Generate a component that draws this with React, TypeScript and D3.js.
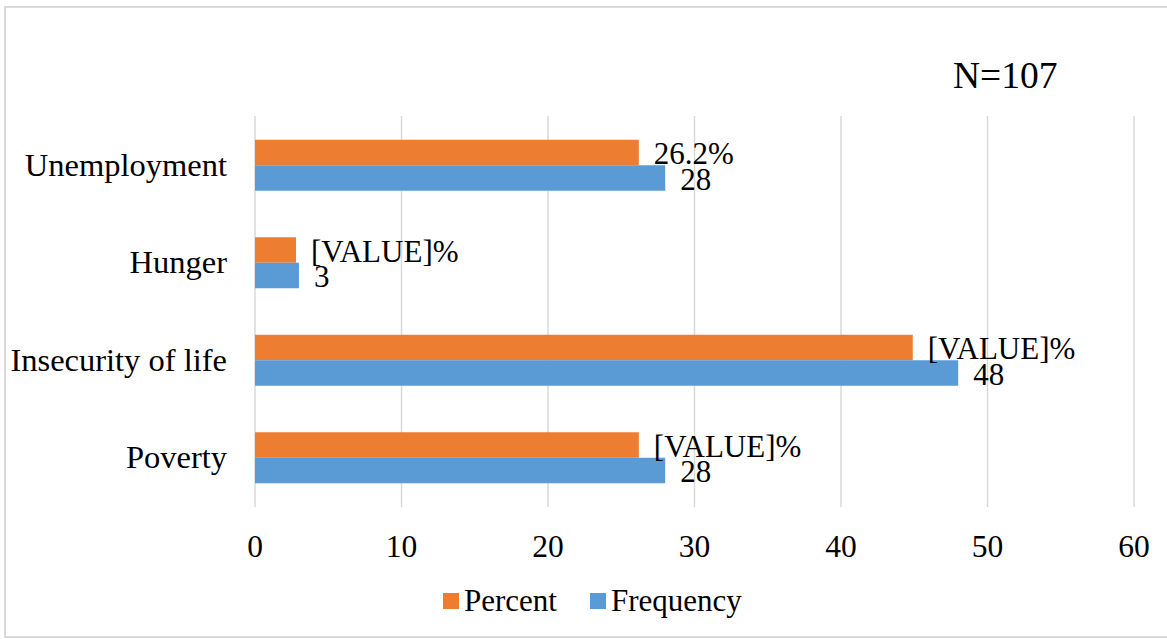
import React from "react";
import * as d3 from "d3";

const categories = ["Unemployment", "Hunger", "Insecurity of life", "Poverty"];
const percentValues = [26.2, 2.8, 44.9, 26.2];
const frequencyValues = [28, 3, 48, 28];
const percentLabels = ["26.2%", "[VALUE]%", "[VALUE]%", "[VALUE]%"];
const frequencyLabels = ["28", "3", "48", "28"];
const xTicks = [0, 10, 20, 30, 40, 50, 60];
const seriesNames = ["Percent", "Frequency"];
const seriesColors = ["#ED7D31", "#5B9BD5"];
const annotation = "N=107";

const W = 1167;
const H = 639;
const FONT = '"Liberation Serif", "Times New Roman", serif';

export default function App() {
  const x = d3.scaleLinear().domain([0, 60]).range([255, 1134]);
  const y = d3.scaleBand<string>().domain(categories).range([116.5, 506.5]).padding(0);
  const step = y.bandwidth();
  const groupH = 51;
  const sub = d3
    .scaleBand<string>()
    .domain(seriesNames)
    .range([(step - groupH) / 2, (step + groupH) / 2])
    .padding(0);
  const seriesValues = [percentValues, frequencyValues];
  const seriesLabels = [percentLabels, frequencyLabels];

  return (
    <svg
      width={W}
      height={H}
      style={{ position: "absolute", left: 0, top: 0, background: "#fff" }}
    >
      <rect x={0} y={0} width={W} height={H} fill="#fff" />
      {/* chart border */}
      <rect x={5} y={7} width={W + 20} height={630} fill="none" stroke="#d9d9d9" strokeWidth={2} />

      {/* gridlines */}
      {xTicks.map((t) => (
        <line
          key={"g" + t}
          x1={x(t)}
          x2={x(t)}
          y1={116}
          y2={507}
          stroke="#d9d9d9"
          strokeWidth={1.5}
        />
      ))}

      {/* bars */}
      {seriesNames.map((s, si) =>
        categories.map((c, ci) => {
          const y0 = (y(c) as number) + (sub(s) as number);
          const v = seriesValues[si][ci];
          return (
            <rect
              key={s + c}
              x={x(0)}
              y={y0}
              width={x(v) - x(0)}
              height={sub.bandwidth()}
              fill={seriesColors[si]}
            />
          );
        })
      )}

      {/* data labels */}
      {seriesNames.map((s, si) =>
        categories.map((c, ci) => {
          const yc = (y(c) as number) + (sub(s) as number) + sub.bandwidth() / 2;
          const v = seriesValues[si][ci];
          return (
            <text
              key={"l" + s + c}
              x={x(v) + 15}
              y={yc + 11.5}
              fontFamily={FONT}
              fontSize={31}
              fill="#000"
            >
              {seriesLabels[si][ci]}
            </text>
          );
        })
      )}

      {/* category labels */}
      {categories.map((c) => (
        <text
          key={"c" + c}
          x={227}
          y={(y(c) as number) + step / 2 + 10.5}
          textAnchor="end"
          fontFamily={FONT}
          fontSize={32.5}
          fill="#000"
        >
          {c}
        </text>
      ))}

      {/* x tick labels */}
      {xTicks.map((t) => (
        <text
          key={"t" + t}
          x={x(t)}
          y={557}
          textAnchor="middle"
          fontFamily={FONT}
          fontSize={31.5}
          fill="#000"
        >
          {t}
        </text>
      ))}

      {/* N annotation */}
      <text x={953} y={88} fontFamily={FONT} fontSize={37.5} fill="#000">
        {annotation}
      </text>

      {/* legend */}
      {seriesNames.map((s, si) => {
        const lx = [443, 590][si];
        return (
          <g key={"lg" + s}>
            <rect x={lx} y={593} width={16} height={16} fill={seriesColors[si]} />
            <text x={lx + 21} y={611} fontFamily={FONT} fontSize={31} fill="#000">
              {s}
            </text>
          </g>
        );
      })}
    </svg>
  );
}
